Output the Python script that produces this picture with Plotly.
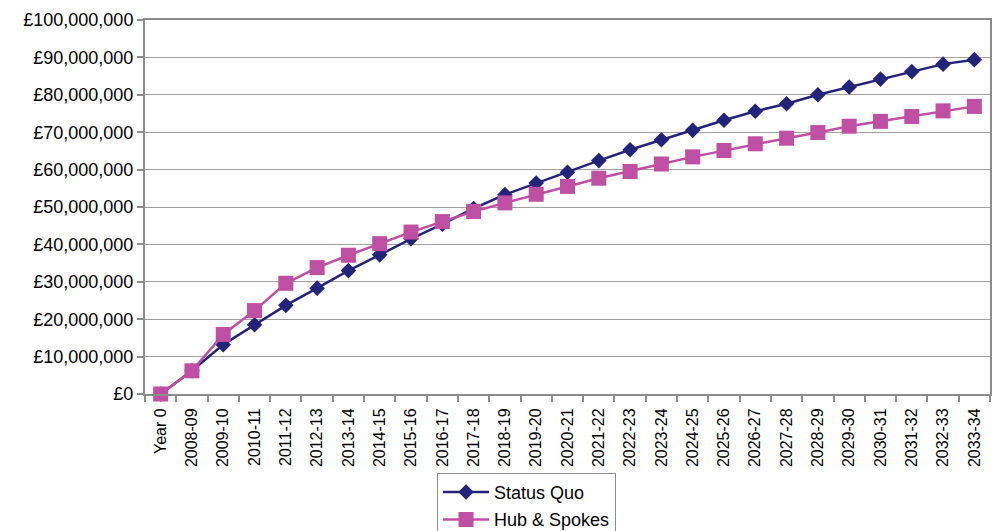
import plotly.graph_objects as go

# Financial years shown on the category axis
years = [
    "Year 0", "2008-09", "2009-10", "2010-11", "2011-12", "2012-13", "2013-14",
    "2014-15", "2015-16", "2016-17", "2017-18", "2018-19", "2019-20", "2020-21",
    "2021-22", "2022-23", "2023-24", "2024-25", "2025-26", "2026-27", "2027-28",
    "2028-29", "2029-30", "2030-31", "2031-32", "2032-33", "2033-34",
]

# Cumulative cost, £ millions
status_quo_m = [
    0.0, 6.2, 13.2, 18.5, 23.7, 28.3, 33.0, 37.2, 41.5, 45.4, 49.6, 53.3, 56.4,
    59.3, 62.4, 65.3, 68.0, 70.5, 73.2, 75.6, 77.6, 80.0, 82.1, 84.2, 86.2,
    88.2, 89.4,
]
hub_spokes_m = [
    0.0, 6.2, 15.9, 22.3, 29.6, 33.8, 37.1, 40.2, 43.3, 46.1, 48.8, 51.1, 53.4,
    55.5, 57.7, 59.5, 61.5, 63.4, 65.1, 66.9, 68.4, 69.9, 71.6, 72.9, 74.2,
    75.7, 76.9,
]

status_quo = [v * 1_000_000 for v in status_quo_m]
hub_spokes = [v * 1_000_000 for v in hub_spokes_m]

NAVY = "#24237A"
MAGENTA = "#BE4FA2"
AXIS_GREY = "#8C8C8C"
GRID_GREY = "#A0A0A0"
FONT = "Arial, Liberation Sans, sans-serif"

fig = go.Figure()
fig.add_trace(go.Scatter(
    x=years, y=status_quo, name="Status Quo", mode="lines+markers",
    line=dict(color=NAVY, width=2.5),
    marker=dict(symbol="diamond", size=12, color=NAVY),
    legendgroup="sq", cliponaxis=False,
))
fig.add_trace(go.Scatter(
    x=years, y=hub_spokes, name="Hub & Spokes", mode="lines+markers",
    line=dict(color=MAGENTA, width=2.5),
    marker=dict(symbol="square", size=15, color=MAGENTA),
    legendgroup="hs", cliponaxis=False,
))

fig.update_layout(
    width=995, height=531,
    margin=dict(l=145, r=5, t=20, b=137, autoexpand=False),
    paper_bgcolor="white", plot_bgcolor="white",
    font=dict(family=FONT, size=18, color="black"),
    showlegend=True,
    legend=dict(
        x=0.3456, y=-0.2107, xanchor="left", yanchor="top",
        bgcolor="white", bordercolor=AXIS_GREY, borderwidth=1,
        font=dict(family=FONT, size=18, color="black"),
        itemwidth=46, tracegroupgap=1, traceorder="grouped",
    ),
    xaxis=dict(
        type="category", range=[-0.5, len(years) - 0.5], tickangle=-90,
        tickfont=dict(family=FONT, size=16, color="black"),
        ticklabelstandoff=6,
        showline=True, linecolor=AXIS_GREY, linewidth=2, mirror=True,
        ticks="outside", tickson="boundaries", ticklen=6,
        tickcolor=AXIS_GREY, tickwidth=1.5,
        showgrid=False, zeroline=False,
    ),
    yaxis=dict(
        range=[0, 100_000_000], dtick=10_000_000,
        tickprefix="£", tickformat=",.0f",
        tickfont=dict(family=FONT, size=18, color="black"),
        showline=True, linecolor=AXIS_GREY, linewidth=2, mirror=True,
        ticks="outside", ticklen=6, tickcolor=AXIS_GREY, tickwidth=1.5,
        showgrid=True, gridcolor=GRID_GREY, gridwidth=1,
        zeroline=False,
    ),
)

fig.write_html("out.html")
